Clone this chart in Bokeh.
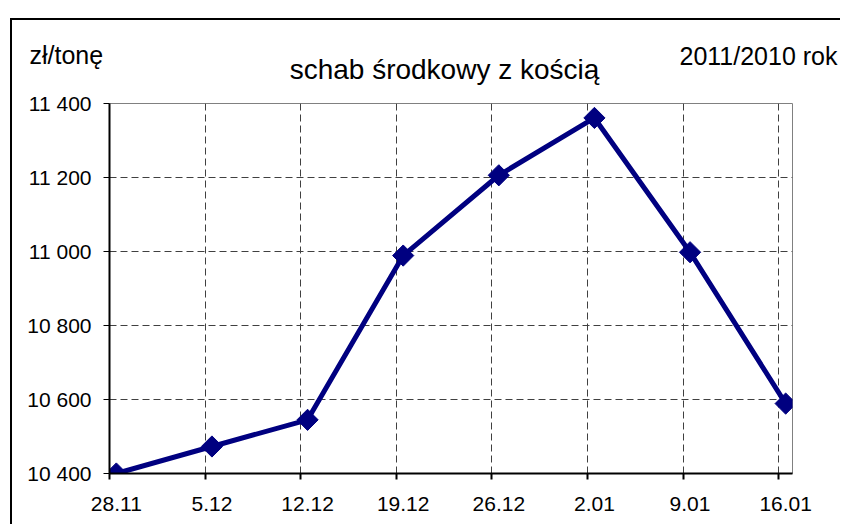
import math
from bokeh.plotting import figure
from bokeh.models import FixedTicker, LinearAxis, Label, Range1d
from bokeh.embed import file_html
from bokeh.resources import INLINE

# ---- data ----
dates = ["28.11", "5.12", "12.12", "19.12", "26.12", "2.01", "9.01", "16.01"]
days = [0, 7, 14, 21, 28, 35, 42, 49]          # days since 28.11
prices = [10400, 10473, 10545, 10989, 11206, 11361, 10998, 10589]
y_ticks = [10400, 10600, 10800, 11000, 11200, 11400]
y_tick_labels = ["10 400", "10 600", "10 800", "11 000", "11 200", "11 400"]
title_text = "schab środkowy z kością"
unit_text = "zł/tonę"
period_text = "2011/2010 rok"

FONT = "Liberation Sans"
NAVY = "#000080"
W = 830
HEAD_H = 70
MAIN_H = 436

# Excel date axis: points sit in the middle of their day
half_day = 0.5
point_x = [d + half_day for d in days]

# ---------- header strip with the three texts ----------
head = figure(width=W, height=HEAD_H, x_range=Range1d(0, W), y_range=Range1d(HEAD_H, 0),
              output_backend="svg", toolbar_location=None,
              x_axis_type=None, y_axis_type=None,
              min_border=0, min_border_left=0, min_border_right=0,
              min_border_top=0, min_border_bottom=0,
              background_fill_color="white", border_fill_color="white")
head.outline_line_color = None
head.grid.visible = False
head.styles = {"margin-left": "10px", "margin-top": "18px",
               "border-left": "2px solid black", "border-top": "2px solid black"}
head.add_layout(Label(x=17, y=34, text=unit_text, text_font=FONT, text_font_size="25px",
                      text_color="black", text_baseline="alphabetic", text_align="left"))
head.add_layout(Label(x=432, y=49, text=title_text, text_font=FONT, text_font_size="28px",
                      text_color="black", text_baseline="alphabetic", text_align="center"))
head.add_layout(Label(x=825, y=35, text=period_text, text_font=FONT, text_font_size="25px",
                      text_color="black", text_baseline="alphabetic", text_align="right"))

# ---------- main chart ----------
p = figure(width=W, height=MAIN_H,
           x_range=Range1d(0, 50), y_range=Range1d(10400, 11400),
           output_backend="svg", toolbar_location=None,
           min_border_left=97, min_border_right=50,
           min_border_top=15, min_border_bottom=51,
           background_fill_color="white", border_fill_color="white")
p.styles = {"margin-left": "10px", "border-left": "2px solid black"}

p.outline_line_color = "#808080"
p.outline_line_width = 1

# x axis: tick marks at days, labels on a separate axis
xa = p.xaxis[0]
xa.ticker = FixedTicker(ticks=days)
xa.major_label_text_font_size = "1px"
xa.major_label_text_color = None
xa.major_label_standoff = 0
xa.major_tick_out = 6
xa.major_tick_in = 0
xa.major_tick_line_width = 2
xa.axis_line_width = 2
xa.axis_line_color = "black"
xa.major_tick_line_color = "black"
xa.minor_tick_line_color = None

lab_axis = LinearAxis(ticker=FixedTicker(ticks=point_x),
                      major_label_overrides={float(x): d for x, d in zip(point_x, dates)},
                      axis_line_color=None, major_tick_line_color=None,
                      minor_tick_line_color=None, major_tick_out=0, major_tick_in=0,
                      major_label_standoff=17,
                      major_label_text_font=FONT, major_label_text_font_size="21px",
                      major_label_text_color="black")
p.add_layout(lab_axis, "below")

ya = p.yaxis[0]
ya.ticker = FixedTicker(ticks=y_ticks)
ya.major_label_overrides = {v: s for v, s in zip(y_ticks, y_tick_labels)}
ya.major_label_text_font = FONT
ya.major_label_text_font_size = "21px"
ya.major_label_text_color = "black"
ya.major_label_standoff = 12
ya.major_tick_out = 6
ya.major_tick_in = 0
ya.major_tick_line_width = 1
ya.axis_line_width = 2
ya.axis_line_color = "black"
ya.minor_tick_line_color = None

for g in (p.xgrid[0], p.ygrid[0]):
    g.grid_line_color = "#404040"
    g.grid_line_width = 1
    g.grid_line_dash = "7 4"

p.line(point_x, prices, line_color=NAVY, line_width=5)
p.scatter(point_x, prices, marker="square", angle=math.pi / 4, size=15,
          fill_color=NAVY, line_color=NAVY, line_width=1)

open("out.html", "w").write(file_html([head, p], INLINE))
